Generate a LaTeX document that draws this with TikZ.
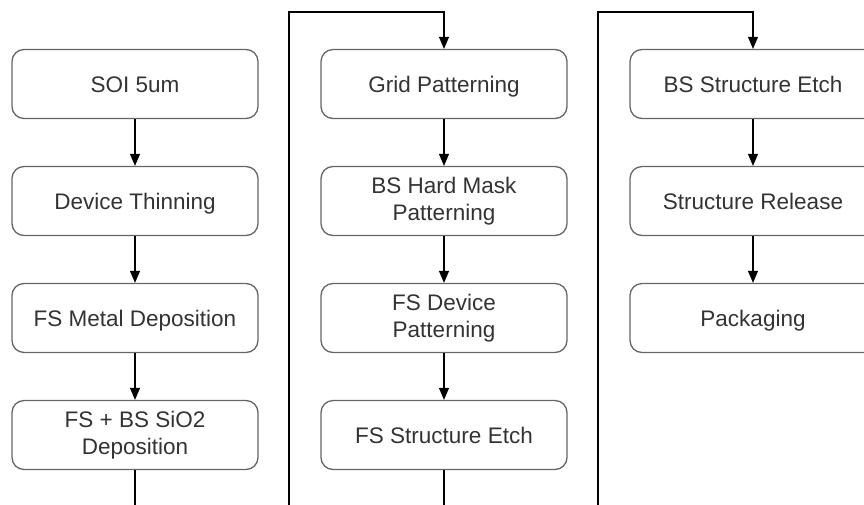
\documentclass[tikz,border=0pt]{standalone}
\usepackage{fontspec}
\setmainfont{Liberation Sans}
\usetikzlibrary{arrows.meta}
\begin{document}
\begin{tikzpicture}[x=1pt,y=-1pt,
  stepbox/.style={draw=black!60, line width=1.3pt, rounded corners=12pt,
    minimum width=246pt, minimum height=69pt, align=center, inner sep=0pt,
    text=black!80, font=\fontsize{22.5}{27}\selectfont},
  oneline/.style={text height=22pt, text depth=6pt},
  conn/.style={draw=black, line width=1.1pt, -{Triangle[width=10pt,length=12pt]}}]
\useasboundingbox (0,0) rectangle (864,504);
\clip (0,0) rectangle (864,504);
% column 1
\node[stepbox,oneline] (a1) at (135,84)  {SOI 5um};
\node[stepbox,oneline] (a2) at (135,201) {Device Thinning};
\node[stepbox,oneline] (a3) at (135,318) {FS Metal Deposition};
\node[stepbox] (a4) at (135,435) {FS + BS SiO2\\Deposition};
% column 2
\node[stepbox,oneline] (b1) at (444,84)  {Grid Patterning};
\node[stepbox] (b2) at (444,201) {BS Hard Mask\\Patterning};
\node[stepbox] (b3) at (444,318) {FS Device\\Patterning};
\node[stepbox,oneline] (b4) at (444,435) {FS Structure Etch};
% column 3
\node[stepbox,oneline] (c1) at (753,84)  {BS Structure Etch};
\node[stepbox,oneline] (c2) at (753,201) {Structure Release};
\node[stepbox,oneline] (c3) at (753,318) {Packaging};
% route coordinates
\coordinate (ab) at (289,530);
\coordinate (abtop) at (289,12);
\coordinate (bc) at (598,530);
\coordinate (bctop) at (598,12);
% connectors
\draw[conn] (a1) -- (a2);
\draw[conn] (a2) -- (a3);
\draw[conn] (a3) -- (a4);
\draw[conn] (a4.south) |- (ab) -- (abtop) -| (b1.north);
\draw[conn] (b1) -- (b2);
\draw[conn] (b2) -- (b3);
\draw[conn] (b3) -- (b4);
\draw[conn] (b4.south) |- (bc) -- (bctop) -| (c1.north);
\draw[conn] (c1) -- (c2);
\draw[conn] (c2) -- (c3);
\end{tikzpicture}
\end{document}
